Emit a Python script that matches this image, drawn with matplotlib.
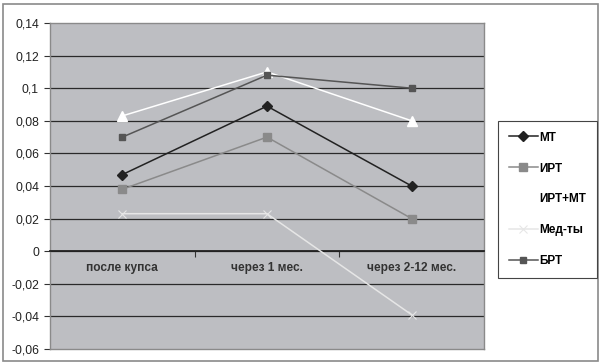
import matplotlib.pyplot as plt
from matplotlib.patches import Rectangle

plt.rcParams['font.family'] = ['Liberation Sans', 'DejaVu Sans']

categories = ['после купса', 'через 1 мес.', 'через 2-12 мес.']
mt = [0.047, 0.089, 0.040]
irt = [0.038, 0.070, 0.020]
irt_mt = [0.083, 0.110, 0.080]
med = [0.023, 0.023, -0.039]
brt = [0.070, 0.108, 0.100]
yticks = [-0.06, -0.04, -0.02, 0, 0.02, 0.04, 0.06, 0.08, 0.1, 0.12, 0.14]
ylabels = ['-0,06', '-0,04', '-0,02', '0', '0,02', '0,04', '0,06', '0,08', '0,1', '0,12', '0,14']

fig = plt.figure(figsize=(6.01, 3.64), dpi=100)
ax = fig.add_axes([50 / 601, 15 / 364, 434 / 601, 326 / 364])
ax.set_facecolor('#bdbec2')

# x axis sits at zero (set first, it resets the ticks)
ax.spines['bottom'].set_position(('data', 0))
ax.spines['bottom'].set_color('#222222')
ax.spines['bottom'].set_linewidth(1.3)
for s in ['left', 'right', 'top']:
    ax.spines[s].set_color('#8a8a8a')
    ax.spines[s].set_linewidth(1.0)

x = list(range(len(categories)))
ax.plot(x, mt, color='#222222', marker='D', markersize=5, lw=1.1, label='МТ', zorder=5)
ax.plot(x, irt, color='#8a8a8a', marker='s', markersize=5.5, lw=1.1, label='ИРТ', zorder=4)
ax.plot(x, irt_mt, color='#ffffff', marker='^', markersize=6.5, lw=1.1, label='ИРТ+МТ', zorder=4)
ax.plot(x, med, color='#e6e6e6', marker='x', markersize=5.5, markeredgewidth=0.8, lw=1.1, label='Мед-ты', zorder=4)
ax.plot(x, brt, color='#555555', marker='s', markersize=4, lw=1.1, label='БРТ', zorder=4)

ax.set_xlim(-0.5, 2.5)
ax.set_ylim(-0.06, 0.14)
ax.set_yticks(yticks)
ax.set_yticklabels(ylabels, fontsize=8.8, color='#222222')
for yv in yticks[1:-1]:
    ax.axhline(yv, color='#2a2a2a', lw=0.9, zorder=1)
ax.tick_params(axis='y', length=4, width=0.8, color='#333333', pad=4)

ax.set_xticks(x)
ax.set_xticklabels(categories, fontsize=8.6, fontweight='bold', color='#333333')
ax.set_xticks([0.5, 1.5], minor=True)
ax.tick_params(axis='x', which='major', length=0, pad=8)
ax.tick_params(axis='x', which='minor', length=4, width=0.8, color='#333333')
ax.axhline(-0.06, color='#8a8a8a', lw=1.0, clip_on=False)

leg = fig.legend(loc='upper left', bbox_to_anchor=(498 / 601, 1 - 121 / 364),
                 prop={'weight': 'bold', 'size': 8.5},
                 labelspacing=1.6, handlelength=2.5, handletextpad=0.1,
                 borderpad=0.9, borderaxespad=0, fancybox=False, framealpha=1)
leg.get_frame().set_edgecolor('#444444')
leg.get_frame().set_linewidth(0.8)

fig.patches.append(Rectangle((3 / 601, 3 / 364), 595 / 601, 357 / 364,
                             transform=fig.transFigure, fill=False,
                             edgecolor='#8a8a8a', lw=1.2))

fig.savefig('out.png', dpi=100)
